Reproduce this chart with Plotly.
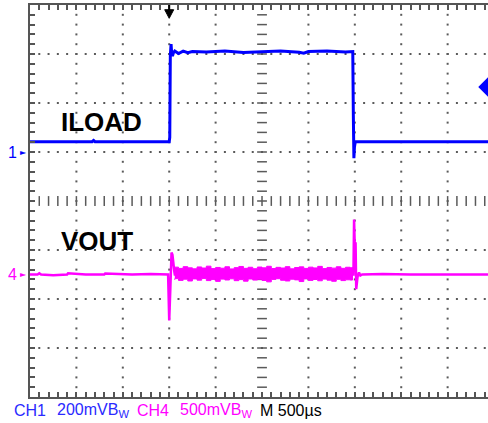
import numpy as np
import plotly.graph_objects as go

# ---------------- scope settings (read from the readout) ----------------
TIME_PER_DIV_US = 500          # M 500us
CH1_MV_PER_DIV = 200           # CH1 200mV
CH4_MV_PER_DIV = 500           # CH4 500mV
T_LEFT_US = -1500              # time at left edge of graticule (trigger at t = 0)
VISIBLE_DIVS_X = 9.87          # graticule runs past the right edge of the picture
DIVS_Y = 8
CH1_GROUND_DIV = 5             # ground marker "1" (divisions above bottom)
CH4_GROUND_DIV = 2.5           # ground marker "4"
TRIGGER_T_US = 0
TRIGGER_LEVEL_MV = 265         # CH1 trigger level marker (right edge)

# ---------------- CH1 : ILOAD (time us, mV) ----------------
iload_t = [-1500, -830, -815, -800, 0, 6, 12, 20, 27, 35, 45, 60, 100, 150, 200,
           250, 400, 600, 800, 1000, 1200, 1400, 1450, 1500, 1700, 1900, 1978,
           1984, 1990, 1996, 2005, 3500]
iload_mv = [42, 42, 47, 42, 42, 60, 395, 440, 400, 392, 405, 412, 402, 412, 405,
            410, 408, 412, 406, 410, 412, 407, 403, 410, 412, 408, 410,
            150, -25, 20, 42, 42]

# ---------------- CH4 : VOUT (time us, mV) ----------------
vout_t = [-1500, -1420, -1400, -1380, -1250, -1100, -1090, -900, -700, -690, -400,
          -200, -12, 0, 12, 25, 35, 45, 55, 60,
          1975, 1985, 1992, 2000, 2008, 2015, 2030, 2045, 2060, 2080, 2300, 2600, 3500]
vout_mv = [0, 0, 12, 0, -8, 0, 12, 0, 0, 10, 0,
           5, 0, -470, -150, 225, 200, 80, 30, 0,
           0, 0, 560, 270, 330, -150, -20, 20, -10, 0, 5, 0, 0]

# noise envelope of VOUT while the load is applied
band_t = [60, 100, 150, 200, 250, 300, 350, 400, 450, 500, 550, 600, 650, 700,
          750, 800, 850, 900, 950, 1000, 1050, 1100, 1150, 1200, 1250, 1300,
          1350, 1400, 1450, 1500, 1550, 1600, 1650, 1700, 1750, 1800, 1850,
          1900, 1950, 1975]
band_hi = [75, 62, 80, 68, 58, 77, 66, 85, 60, 72, 64, 79, 57, 70,
           82, 63, 74, 59, 76, 68, 84, 61, 73, 66, 80, 58,
           71, 78, 62, 75, 67, 83, 60, 72, 65, 79, 63,
           74, 69, 72]
band_lo = [-55, -42, -60, -48, -66, -45, -58, -40, -62, -50, -70, -47, -56, -44,
           -63, -52, -68, -46, -57, -49, -61, -75, -50, -43, -59, -66,
           -48, -55, -72, -45, -60, -51, -64, -47, -58, -69, -49,
           -62, -54, -57]

BLUE = "#0000ff"
MAGENTA = "#ff00ff"
TXT_BLUE = "#2a2aff"
GRID = "#5a5a5a"
FRAME = "#555555"

x_min = T_LEFT_US
x_max = T_LEFT_US + VISIBLE_DIVS_X * TIME_PER_DIV_US
y1_range = [-CH1_GROUND_DIV * CH1_MV_PER_DIV, (DIVS_Y - CH1_GROUND_DIV) * CH1_MV_PER_DIV]
y4_range = [-CH4_GROUND_DIV * CH4_MV_PER_DIV, (DIVS_Y - CH4_GROUND_DIV) * CH4_MV_PER_DIV]

fig = go.Figure()

# ---------------- graticule (dotted) ----------------
x_step = TIME_PER_DIV_US / 5
y_step = CH1_MV_PER_DIV / 5
center_t = T_LEFT_US + 5 * TIME_PER_DIV_US
center_y = y1_range[0] + 4 * CH1_MV_PER_DIV

dots_y_vals = np.arange(y1_range[0] + y_step, y1_range[1] - y_step / 2, y_step)
dots_x_vals = np.arange(x_min + x_step, x_max, x_step)

gx, gy = [], []
for k in range(1, 10):
    if k == 5:
        continue
    t = T_LEFT_US + k * TIME_PER_DIV_US
    gx += [t] * len(dots_y_vals)
    gy += list(dots_y_vals)
for k in range(1, DIVS_Y):
    if k == 4:
        continue
    v = y1_range[0] + k * CH1_MV_PER_DIV
    gx += list(dots_x_vals)
    gy += [v] * len(dots_x_vals)
fig.add_trace(go.Scatter(x=gx, y=gy, mode="markers", hoverinfo="skip",
                         marker=dict(symbol="square", size=2, color=GRID),
                         showlegend=False))
# center cross with small tick marks
fig.add_trace(go.Scatter(x=[center_t] * len(dots_y_vals), y=list(dots_y_vals),
                         mode="markers", hoverinfo="skip", showlegend=False,
                         marker=dict(symbol="line-ew", size=7,
                                     line=dict(width=1.5, color=GRID))))
fig.add_trace(go.Scatter(x=list(dots_x_vals), y=[center_y] * len(dots_x_vals),
                         mode="markers", hoverinfo="skip", showlegend=False,
                         marker=dict(symbol="line-ns", size=7,
                                     line=dict(width=1.5, color=GRID))))

# ---------------- traces ----------------
fig.add_trace(go.Scatter(x=vout_t, y=vout_mv, yaxis="y2", mode="lines",
                         line=dict(color=MAGENTA, width=2.5), showlegend=False))
fig.add_trace(go.Scatter(x=band_t + band_t[::-1], y=band_hi + band_lo[::-1],
                         yaxis="y2", mode="lines", fill="toself",
                         fillcolor=MAGENTA, line=dict(color=MAGENTA, width=1, shape="hv"),
                         showlegend=False))
fig.add_trace(go.Scatter(x=iload_t, y=iload_mv, mode="lines",
                         line=dict(color=BLUE, width=3), showlegend=False))

# trigger level marker (right edge)
fig.add_trace(go.Scatter(x=[x_max], y=[TRIGGER_LEVEL_MV], mode="markers",
                         cliponaxis=False, showlegend=False, hoverinfo="skip",
                         marker=dict(symbol="diamond", size=15, color=BLUE)))

# trigger position marker (top)
half_w = 4.5 * TIME_PER_DIV_US / 46.4
fig.add_shape(type="line", xref="x", yref="paper", x0=TRIGGER_T_US, x1=TRIGGER_T_US,
              y0=1.0, y1=0.985, line=dict(color="black", width=2))
fig.add_shape(type="path", xref="x", yref="paper", fillcolor="black",
              line=dict(color="black", width=1),
              path=f"M {TRIGGER_T_US - half_w},0.988 L {TRIGGER_T_US + half_w},0.988 "
                   f"L {TRIGGER_T_US},0.966 Z")

# ---------------- annotations ----------------
ann = []
ann.append(dict(text="<b>ILOAD</b>", xref="paper", yref="paper", x=0.064, y=0.702,
                xanchor="left", yanchor="middle", showarrow=False,
                font=dict(family="Liberation Sans, Arial", size=26, color="black")))
ann.append(dict(text="<b>VOUT</b>", xref="paper", yref="paper", x=0.064, y=0.398,
                xanchor="left", yanchor="middle", showarrow=False,
                font=dict(family="Liberation Sans, Arial", size=26, color="black")))
# channel ground markers
for label, yref, col in [("1", "y", BLUE), ("4", "y2", MAGENTA)]:
    ann.append(dict(text=label, xref="paper", yref=yref, x=0, y=0, xshift=-11,
                    xanchor="right", yanchor="middle", showarrow=False,
                    font=dict(family="Liberation Sans, Arial", size=16, color=col)))
    ann.append(dict(text="►", xref="paper", yref=yref, x=0, y=0, xshift=-1,
                    xanchor="right", yanchor="middle", showarrow=False,
                    font=dict(family="DejaVu Sans", size=8, color=col)))
# status line
status = [("CH1", 12, TXT_BLUE), (f"{CH1_MV_PER_DIV}mVB<sub>W</sub>", 55, TXT_BLUE),
          ("CH4", 135, MAGENTA), (f"{CH4_MV_PER_DIV}mVB<sub>W</sub>", 178, MAGENTA),
          (f"M {TIME_PER_DIV_US}µs", 258, "black")]
for txt, px, col in status:
    ann.append(dict(text=txt, xref="paper", yref="paper", x=(px - 30) / 458, y=-0.034,
                    xanchor="left", yanchor="middle", showarrow=False,
                    font=dict(family="Liberation Sans, Arial", size=16, color=col)))

fig.update_layout(
    width=488, height=423,
    margin=dict(l=30, r=0, t=5, b=26),
    paper_bgcolor="white", plot_bgcolor="white",
    showlegend=False,
    annotations=ann,
    xaxis=dict(range=[x_min, x_max], showgrid=False, zeroline=False,
               showticklabels=False, ticks="inside", ticklen=5, tickwidth=2,
               tickcolor=FRAME, tick0=T_LEFT_US, dtick=x_step,
               showline=True, linecolor=FRAME, linewidth=2, mirror="ticks"),
    yaxis=dict(range=y1_range, showgrid=False, zeroline=False,
               showticklabels=False, ticks="inside", ticklen=5, tickwidth=2,
               tickcolor=FRAME, tick0=0, dtick=y_step,
               showline=True, linecolor=FRAME, linewidth=2),
    yaxis2=dict(range=y4_range, overlaying="y", visible=False,
                showgrid=False, zeroline=False),
)

fig.write_html("out.html", config={"displayModeBar": False},
               post_script="document.body.style.margin='0';document.body.style.overflow='hidden';")
